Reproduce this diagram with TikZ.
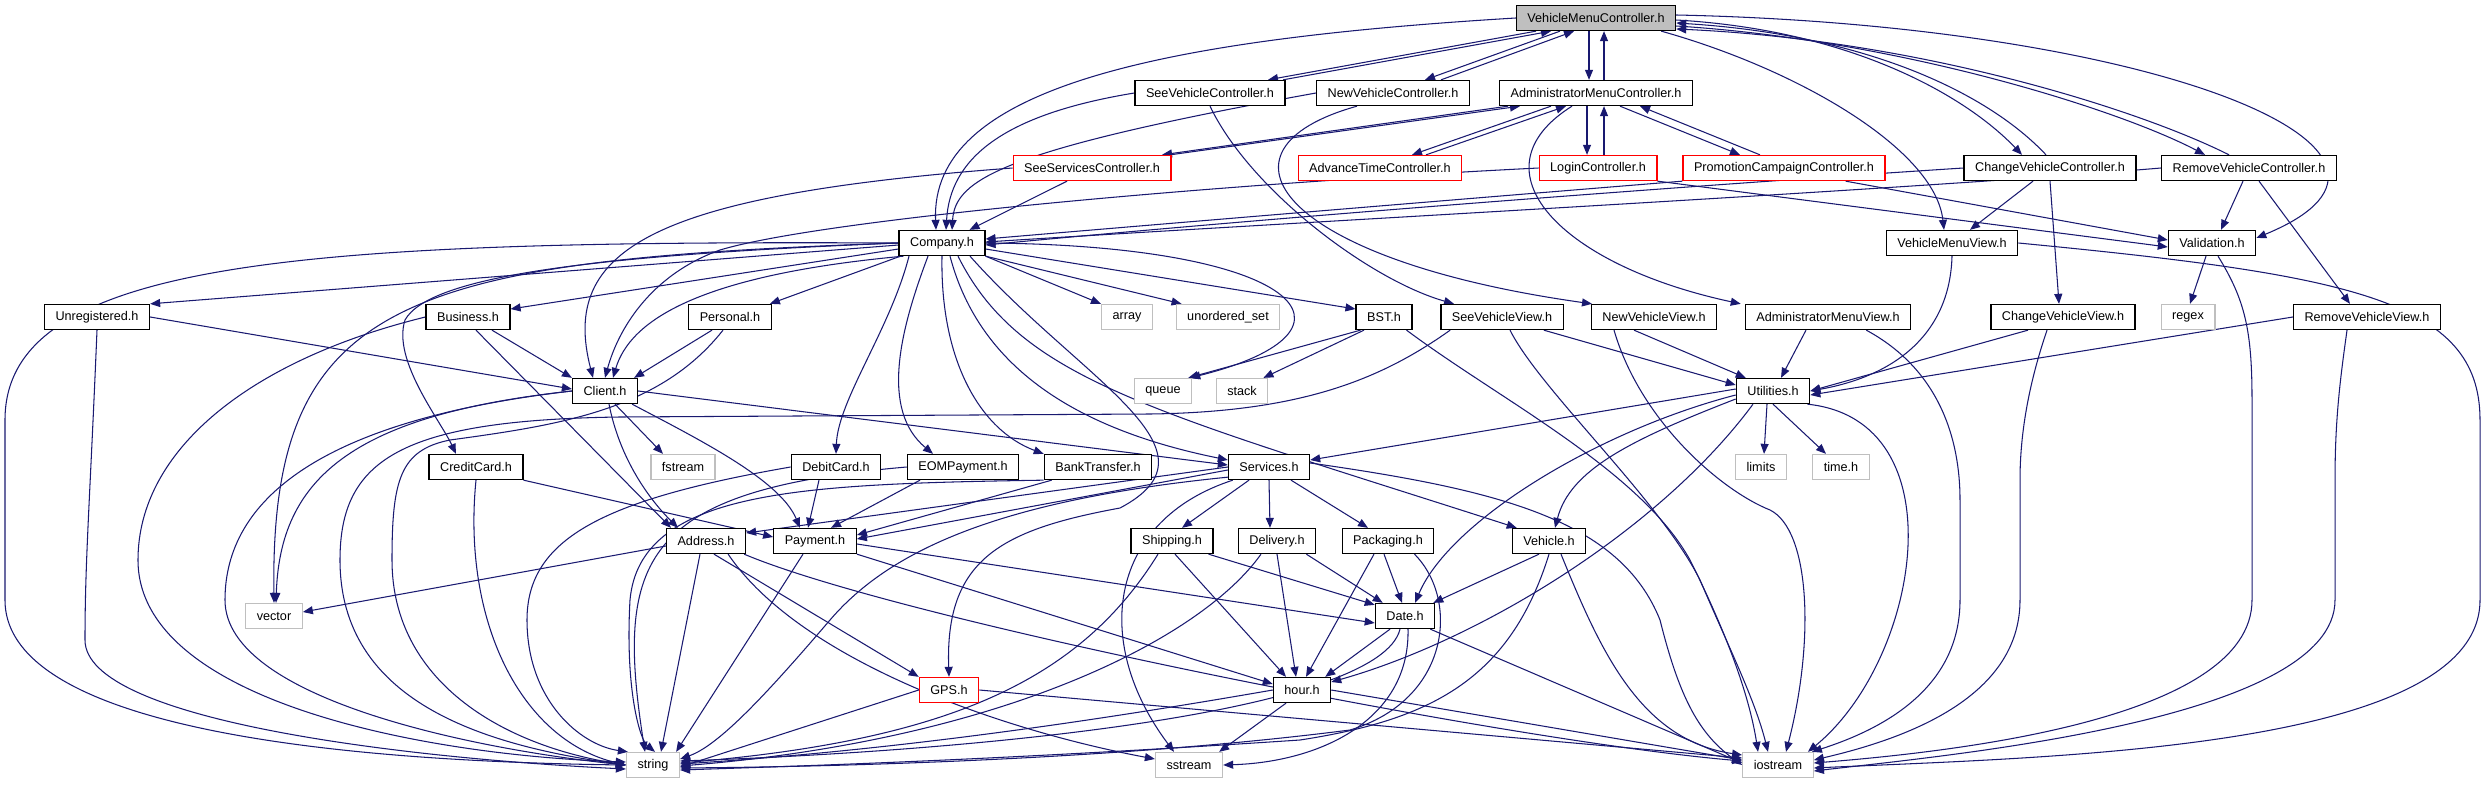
\documentclass[tikz,border=0pt]{standalone}
\usepackage{fontspec}
\setmainfont{Liberation Sans}
\usetikzlibrary{arrows.meta,calc,backgrounds}
\definecolor{linkblue}{HTML}{191970}
\definecolor{sysline}{HTML}{BFBFBF}
\definecolor{rootfill}{HTML}{BFBFBF}
\definecolor{gone}{HTML}{FF0000}

\begin{document}
\begin{tikzpicture}[
  x=0.02cm,y=-0.02cm,
  font=\fontsize{7.2}{8.6}\selectfont,
  hdr/.style={draw=black,fill=white,line width=0.75pt,minimum height=0.5cm,inner xsep=0.22cm,inner ysep=0pt},
  sys/.style={hdr,draw=sysline},
  lost/.style={hdr,draw=gone},
  root/.style={hdr,fill=rootfill},
  dep/.style={->,draw=linkblue,line width=0.6pt},
  >={Triangle[length=2mm,width=1.6mm]}
]
\useasboundingbox (0,0) rectangle (2487,784);
% controllers
\node[root] (vmc) at (1596,18) {VehicleMenuController.h};
\node[hdr] (svc) at (1210,93) {SeeVehicleController.h};
\node[hdr] (nvc) at (1393,93) {NewVehicleController.h};
\node[hdr] (amc) at (1596,93) {AdministratorMenuController.h};
\node[lost] (ssc) at (1092,168) {SeeServicesController.h};
\node[lost] (atc) at (1380,168) {AdvanceTimeController.h};
\node[lost] (lgc) at (1598,168) {LoginController.h};
\node[lost] (pcc) at (1784,168) {PromotionCampaignController.h};
\node[hdr] (cvc) at (2050,168) {ChangeVehicleController.h};
\node[hdr] (rvc) at (2249,168) {RemoveVehicleController.h};
% views and model
\node[hdr] (comp) at (942,243) {Company.h};
\node[hdr] (vmv) at (1952,243) {VehicleMenuView.h};
\node[hdr] (valid) at (2212,243) {Validation.h};
\node[hdr] (unreg) at (97,317) {Unregistered.h};
\node[hdr] (busi) at (468,317) {Business.h};
\node[hdr] (pers) at (730,317) {Personal.h};
\node[sys] (arr) at (1127,317) {array};
\node[sys] (uset) at (1228,317) {unordered\_set};
\node[hdr] (bst) at (1384,317) {BST.h};
\node[hdr] (svv) at (1502,317) {SeeVehicleView.h};
\node[hdr] (nvv) at (1654,317) {NewVehicleView.h};
\node[hdr] (amv) at (1828,317) {AdministratorMenuView.h};
\node[hdr] (cvv) at (2063,317) {ChangeVehicleView.h};
\node[sys] (rgx) at (2188,317) {regex};
\node[hdr] (rvv) at (2367,317) {RemoveVehicleView.h};
\node[hdr] (cli) at (605,391) {Client.h};
\node[sys] (que) at (1163,391) {queue};
\node[sys] (stk) at (1242,391) {stack};
\node[hdr] (util) at (1773,391) {Utilities.h};
\node[hdr] (ccard) at (476,467) {CreditCard.h};
\node[sys] (fst) at (683,467) {fstream};
\node[hdr] (dcard) at (836,467) {DebitCard.h};
\node[hdr] (eom) at (963,467) {EOMPayment.h};
\node[hdr] (bank) at (1098,467) {BankTransfer.h};
\node[hdr] (serv) at (1269,467) {Services.h};
\node[sys] (lim) at (1761,467) {limits};
\node[sys] (tim) at (1841,467) {time.h};
\node[hdr] (addr) at (706,541) {Address.h};
\node[hdr] (pay) at (815,541) {Payment.h};
\node[hdr] (ship) at (1172,541) {Shipping.h};
\node[hdr] (deliv) at (1277,541) {Delivery.h};
\node[hdr] (pack) at (1388,541) {Packaging.h};
\node[hdr] (veh) at (1549,541) {Vehicle.h};
\node[sys] (vec) at (274,616) {vector};
\node[hdr] (date) at (1405,616) {Date.h};
\node[lost] (gps) at (949,690) {GPS.h};
\node[hdr] (hour) at (1302,690) {hour.h};
\node[sys] (str) at (653,765) {string};
\node[sys] (sst) at (1189,765) {sstream};
\node[sys] (ios) at (1778,765) {iostream};

\begin{scope}[on background layer]
% root and the controllers it pairs with
\draw[dep] ($(vmc.south)+(-60,0)$) -- ($(svc.north)+(58,0)$);
\draw[dep] ($(svc.north)+(73,0)$) -- ($(vmc.south)+(-45,0)$);
\draw[dep] ($(vmc.south)+(-36,0)$) -- ($(nvc.north)+(32,0)$);
\draw[dep] ($(nvc.north)+(48,0)$) -- ($(vmc.south)+(-22,0)$);
\draw[dep] ($(vmc.south)+(-7,0)$) -- ($(amc.north)+(-7,0)$);
\draw[dep] ($(amc.north)+(8,0)$) -- ($(vmc.south)+(8,0)$);
\draw[dep] ($(vmc.east)+(0,2)$) .. controls (1850,30) and (1965,95) .. ($(cvc.north)+(-28,0)$);
\draw[dep] ($(cvc.north)+(-4,0)$) .. controls (1990,95) and (1870,35) .. ($(vmc.east)+(0,5)$);
\draw[dep] ($(vmc.east)+(0,8)$) .. controls (1900,40) and (2120,110) .. ($(rvc.north)+(-44,0)$);
\draw[dep] ($(rvc.north)+(-20,0)$) .. controls (2140,110) and (1920,40) .. ($(vmc.east)+(0,11)$);
\draw[dep] ($(vmc.east)+(0,-3)$) .. controls (2150,25) and (2470,150) .. ($(valid.east)+(0,-5)$);
\draw[dep] ($(vmc.south east)+(-15,0)$) .. controls (1800,70) and (1935,150) .. ($(vmv.north)+(-8,0)$);
\draw[dep] (vmc.west) .. controls (1150,40) and (930,90) .. ($(comp.north)+(-6,0)$);
% administrator menu
\draw[dep] ($(amc.south)+(-88,0)$) -- ($(ssc.north)+(70,0)$);
\draw[dep] ($(ssc.north)+(78,0)$) -- ($(amc.south)+(-76,0)$);
\draw[dep] ($(amc.south)+(-45,0)$) -- ($(atc.north)+(32,0)$);
\draw[dep] ($(atc.north)+(46,0)$) -- ($(amc.south)+(-30,0)$);
\draw[dep] ($(amc.south)+(-9,0)$) -- ($(lgc.north)+(-11,0)$);
\draw[dep] ($(lgc.north)+(6,0)$) -- ($(amc.south)+(8,0)$);
\draw[dep] ($(amc.south)+(24,0)$) -- ($(pcc.north)+(-44,0)$);
\draw[dep] ($(pcc.north)+(-24,0)$) -- ($(amc.south)+(44,0)$);
\draw[dep] ($(amc.south)+(-24,0)$) .. controls (1470,170) and (1560,265) .. ($(amv.north west)+(-4,0)$);
% other controllers
\draw[dep] (svc.west) .. controls (1000,115) and (950,160) .. ($(comp.north)+(4,0)$);
\draw[dep] (svc.south) .. controls (1250,190) and (1370,280) .. ($(svv.north)+(-48,0)$);
\draw[dep] (nvc.west) .. controls (1000,150) and (955,180) .. ($(comp.north)+(10,0)$);
\draw[dep] ($(nvc.south)+(-36,0)$) .. controls (1200,150) and (1280,260) .. ($(nvv.north)+(-62,0)$);
\draw[dep] ($(ssc.south)+(-25,0)$) -- ($(comp.north east)+(-16,0)$);
\draw[dep] (ssc.west) .. controls (650,195) and (560,250) .. ($(cli.north)+(-12,0)$);
\draw[dep] (lgc.west) .. controls (1200,185) and (820,220) .. (720,250) .. controls (650,275) and (618,330) .. (cli.north);
\draw[dep] (lgc.south east) -- ($(valid.west)+(0,4)$);
\draw[dep] (pcc.south west) .. controls (1450,200) and (1150,225) .. ($(comp.east)+(0,-4)$);
\draw[dep] ($(pcc.south east)+(-40,0)$) -- ($(valid.west)+(0,-3)$);
\draw[dep] (cvc.west) .. controls (1700,185) and (1300,215) .. ($(comp.east)+(0,2)$);
\draw[dep] ($(cvc.south)+(-17,0)$) -- ($(vmv.north)+(18,0)$);
\draw[dep] (cvc.south) -- ($(cvv.north)+(-4,0)$);
\draw[dep] (rvc.west) .. controls (1900,190) and (1300,222) .. ($(comp.east)+(0,-1)$);
\draw[dep] ($(rvc.south)+(-6,0)$) -- ($(valid.north)+(9,0)$);
\draw[dep] ($(rvc.south)+(10,0)$) -- ($(rvv.north)+(-17,0)$);
% company
\draw[dep] ($(comp.west)+(0,2)$) -- (unreg.north east);
\draw[dep] ($(comp.west)+(0,6)$) -- ($(busi.east)+(0,-8)$);
\draw[dep] ($(comp.south west)+(2,0)$) -- ($(pers.north east)+(-2,0)$);
\draw[dep] ($(comp.south west)+(5,0)$) .. controls (700,275) and (630,320) .. ($(cli.north)+(8,0)$);
\draw[dep] (comp.west) .. controls (300,240) and (5,260) .. (5,420) -- (5,600) .. controls (5,740) and (400,762) .. (str.west);
\draw[dep] (comp.west) .. controls (400,260) and (270,300) .. (vec.north);
\draw[dep] (comp.west) .. controls (600,255) and (430,275) .. (405,320) .. controls (392,360) and (440,420) .. ($(ccard.north)+(-20,0)$);
\draw[dep] ($(comp.south)+(-33,0)$) .. controls (890,330) and (838,400) .. (dcard.north);
\draw[dep] ($(comp.south)+(-14,0)$) .. controls (900,330) and (880,410) .. ($(eom.north)+(-30,0)$);
\draw[dep] (comp.south) .. controls (940,360) and (980,430) .. (bank.north west);
\draw[dep] ($(comp.south)+(8,0)$) .. controls (980,370) and (1080,430) .. ($(serv.west)+(0,-7)$);
\draw[dep] ($(comp.south)+(16,0)$) .. controls (1020,380) and (1150,410) .. ($(veh.north west)+(5,0)$);
\draw[dep] ($(comp.south)+(28,0)$) .. controls (1080,380) and (1230,450) .. (1120,508) .. controls (1000,530) and (945,560) .. (gps.north);
\draw[dep] (comp.south east) -- (arr.north west);
\draw[dep] (comp.south east) -- ($(uset.north west)+(6,0)$);
\draw[dep] ($(comp.east)+(0,6)$) -- ($(bst.west)+(0,-8)$);
\draw[dep] (comp.east) .. controls (1300,245) and (1380,330) .. ($(que.north east)+(-2,0)$);
% customers
\draw[dep] (unreg.east) -- ($(cli.west)+(0,-2)$);
\draw[dep] (unreg.south) .. controls (90,500) and (85,560) .. (85,640) .. controls (85,720) and (400,758) .. ($(str.west)+(0,4)$);
\draw[dep] ($(busi.south)+(24,0)$) -- (cli.north west);
\draw[dep] ($(busi.south)+(8,0)$) -- ($(addr.north)+(-35,0)$);
\draw[dep] (busi.west) .. controls (250,360) and (138,450) .. (138,560) .. controls (138,700) and (420,755) .. ($(str.west)+(0,-3)$);
\draw[dep] ($(pers.south)+(-18,0)$) -- ($(cli.north east)+(-4,0)$);
\draw[dep] ($(pers.south)+(-7,0)$) .. controls (660,410) and (560,425) .. (450,440) .. controls (400,450) and (392,480) .. (392,560) .. controls (392,680) and (500,745) .. (str.west);
\draw[dep] (cli.west) .. controls (350,415) and (280,480) .. ($(vec.north)+(2,0)$);
\draw[dep] (cli.west) .. controls (320,420) and (225,500) .. (225,600) .. controls (225,700) and (480,750) .. (str.west);
\draw[dep] ($(cli.south)+(10,0)$) -- ($(fst.north)+(-20,0)$);
\draw[dep] ($(cli.south)+(4,0)$) .. controls (620,460) and (650,500) .. ($(addr.north)+(-28,0)$);
\draw[dep] ($(cli.south east)+(-6,0)$) .. controls (700,440) and (780,480) .. ($(pay.north)+(-15,0)$);
\draw[dep] (cli.east) -- ($(serv.west)+(0,-2)$);
% payments
\draw[dep] (ccard.south east) -- ($(pay.west)+(0,-4)$);
\draw[dep] (ccard.south) .. controls (462,620) and (520,740) .. (str.west);
\draw[dep] ($(dcard.south)+(-17,0)$) -- ($(pay.north)+(-7,0)$);
\draw[dep] (dcard.west) .. controls (600,500) and (527,540) .. (527,620) .. controls (527,700) and (580,745) .. ($(str.north west)+(2,0)$);
\draw[dep] ($(eom.south)+(-43,0)$) -- ($(pay.north)+(16,0)$);
\draw[dep] (eom.west) .. controls (640,490) and (615,560) .. ($(str.north)+(-8,0)$);
\draw[dep] ($(bank.south west)+(8,0)$) -- ($(pay.east)+(0,-6)$);
\draw[dep] (bank.south west) .. controls (800,484) and (640,490) .. (630,600) .. controls (625,690) and (640,740) .. ($(str.north)+(2,0)$);
% services
\draw[dep] (serv.west) -- ($(addr.east)+(0,-8)$);
\draw[dep] ($(serv.west)+(0,3)$) -- ($(pay.east)+(0,-2)$);
\draw[dep] ($(serv.south west)+(0,-3)$) .. controls (1000,500) and (890,550) .. (830,620) .. controls (770,690) and (720,745) .. ($(str.east)+(0,-6)$);
\draw[dep] ($(serv.south west)+(5,0)$) .. controls (1110,520) and (1090,640) .. ($(sst.north)+(-15,0)$);
\draw[dep] ($(serv.south)+(-20,0)$) -- ($(ship.north)+(10,0)$);
\draw[dep] (serv.south) -- ($(deliv.north)+(-7,0)$);
\draw[dep] ($(serv.south)+(22,0)$) -- ($(pack.north)+(-20,0)$);
\draw[dep] ($(serv.east)+(0,-4)$) .. controls (1500,490) and (1620,520) .. (1660,620) .. controls (1680,700) and (1700,735) .. (ios.west);
% utilities
\draw[dep] ($(util.west)+(0,-2)$) -- ($(serv.east)+(0,-7)$);
\draw[dep] ($(util.west)+(0,4)$) .. controls (1600,430) and (1450,520) .. ($(date.north)+(10,0)$);
\draw[dep] ($(util.west)+(0,8)$) .. controls (1630,440) and (1570,470) .. ($(veh.north)+(6,0)$);
\draw[dep] ($(util.south)+(-20,0)$) .. controls (1660,530) and (1480,640) .. ($(hour.east)+(0,-8)$);
\draw[dep] ($(util.south)+(-6,0)$) -- ($(lim.north)+(3,0)$);
\draw[dep] (util.south) -- ($(tim.north)+(-15,0)$);
\draw[dep] ($(util.south east)+(-3,0)$) .. controls (1960,420) and (1920,660) .. ($(ios.north east)+(-6,0)$);
% views
\draw[dep] (vmv.south) .. controls (1950,330) and (1900,375) .. (util.east);
\draw[dep] (vmv.east) .. controls (2350,275) and (2480,300) .. (2480,420) -- (2480,600) .. controls (2480,750) and (2050,757) .. ($(ios.east)+(0,3)$);
\draw[dep] ($(valid.south)+(-6,0)$) -- ($(rgx.north)+(2,0)$);
\draw[dep] ($(valid.south)+(6,0)$) .. controls (2245,300) and (2252,330) .. (2252,400) -- (2252,600) .. controls (2252,720) and (1950,752) .. ($(ios.east)+(0,-2)$);
\draw[dep] ($(svv.south east)+(-20,0)$) -- ($(util.west)+(0,-6)$);
\draw[dep] ($(svv.south)+(8,0)$) .. controls (1540,390) and (1660,500) .. (1700,580) .. controls (1730,650) and (1755,700) .. ($(ios.north)+(-10,0)$);
\draw[dep] ($(svv.south west)+(10,0)$) .. controls (1380,380) and (1300,412) .. (1150,414) -- (620,417) .. controls (400,420) and (340,460) .. (340,560) .. controls (340,700) and (480,745) .. (str.west);
\draw[dep] ($(nvv.south)+(-20,0)$) -- ($(util.north west)+(10,0)$);
\draw[dep] ($(nvv.south)+(-40,0)$) .. controls (1640,420) and (1720,490) .. (1770,510) .. controls (1810,530) and (1815,640) .. ($(ios.north)+(8,0)$);
\draw[dep] ($(amv.south)+(-22,0)$) -- ($(util.north)+(8,0)$);
\draw[dep] ($(amv.south east)+(-45,0)$) .. controls (1940,370) and (1960,440) .. (1960,500) -- (1960,600) .. controls (1960,690) and (1880,730) .. ($(ios.north east)+(-2,0)$);
\draw[dep] ($(cvv.south)+(-35,0)$) -- (util.east);
\draw[dep] ($(cvv.south)+(-16,0)$) .. controls (2030,380) and (2020,430) .. (2020,480) -- (2020,600) .. controls (2020,700) and (1900,740) .. ($(ios.east)+(0,-5)$);
\draw[dep] (rvv.west) -- ($(util.east)+(0,4)$);
\draw[dep] ($(rvv.south)+(-20,0)$) .. controls (2340,380) and (2335,420) .. (2335,480) -- (2335,600) .. controls (2335,720) and (1950,755) .. ($(ios.east)+(0,6)$);
\draw[dep] ($(bst.south west)+(5,0)$) -- ($(que.north east)+(-4,0)$);
\draw[dep] ($(bst.south)+(-20,0)$) -- ($(stk.north east)+(-5,0)$);
\draw[dep] ($(bst.south east)+(-6,0)$) .. controls (1500,400) and (1640,470) .. (1690,560) .. controls (1730,640) and (1750,700) .. ($(ios.north)+(-20,0)$);
% address and payment
\draw[dep] ($(addr.west)+(0,5)$) -- ($(vec.east)+(0,-4)$);
\draw[dep] ($(addr.south)+(-6,0)$) -- ($(str.north)+(8,0)$);
\draw[dep] ($(addr.south)+(8,0)$) -- (gps.north west);
\draw[dep] ($(addr.south east)+(-18,0)$) .. controls (800,660) and (1000,730) .. ($(sst.west)+(0,-6)$);
\draw[dep] ($(addr.south east)+(-2,0)$) .. controls (900,620) and (1500,740) .. ($(ios.west)+(0,-4)$);
\draw[dep] ($(pay.south)+(-12,0)$) -- ($(str.north east)+(-4,0)$);
\draw[dep] ($(pay.east)+(0,3)$) -- ($(date.west)+(0,7)$);
\draw[dep] (pay.south east) -- ($(hour.west)+(0,-6)$);
\draw[dep] (gps.west) -- ($(str.east)+(0,2)$);
\draw[dep] (gps.east) -- ($(ios.west)+(0,-7)$);
% services parts
\draw[dep] ($(ship.south east)+(-5,0)$) -- ($(date.north west)+(0,2)$);
\draw[dep] ($(ship.south)+(3,0)$) -- ($(hour.north)+(-16,0)$);
\draw[dep] ($(ship.south)+(-14,0)$) .. controls (1080,680) and (950,740) .. ($(str.east)+(0,-2)$);
\draw[dep] ($(deliv.south east)+(-10,0)$) -- ($(date.north west)+(8,0)$);
\draw[dep] (deliv.south) -- ($(hour.north)+(-6,0)$);
\draw[dep] ($(deliv.south)+(-16,0)$) .. controls (1200,640) and (1000,740) .. ($(str.east)+(0,1)$);
\draw[dep] ($(pack.south)+(-14,0)$) -- ($(hour.north)+(4,0)$);
\draw[dep] ($(pack.south)+(-4,0)$) -- ($(date.north)+(-3,0)$);
\draw[dep] ($(pack.south east)+(-20,0)$) .. controls (1460,600) and (1450,700) .. (1350,730) .. controls (1100,762) and (800,767) .. ($(str.east)+(0,3)$);
\draw[dep] ($(veh.south)+(-10,0)$) -- ($(date.north east)+(-2,0)$);
\draw[dep] (veh.south) .. controls (1510,680) and (1430,720) .. (1300,740) .. controls (1000,760) and (800,766) .. ($(str.east)+(0,5)$);
\draw[dep] ($(veh.south)+(12,0)$) .. controls (1600,650) and (1640,740) .. ($(ios.west)+(0,-10)$);
% date and hour
\draw[dep] ($(date.south)+(-15,0)$) -- ($(hour.north east)+(-6,0)$);
\draw[dep] ($(date.south)+(-5,0)$) .. controls (1380,710) and (1000,750) .. ($(str.east)+(0,-4)$);
\draw[dep] ($(date.south)+(3,0)$) .. controls (1410,720) and (1320,762) .. (sst.east);
\draw[dep] ($(date.south east)+(-5,0)$) -- ($(ios.west)+(0,-2)$);
\draw[dep] ($(hour.south)+(-16,0)$) -- ($(sst.north east)+(-4,0)$);
\draw[dep] (hour.west) .. controls (1100,720) and (900,750) .. ($(str.east)+(0,-1)$);
\draw[dep] (hour.east) -- ($(ios.west)+(0,-5)$);
\end{scope}
\end{tikzpicture}
\end{document}
